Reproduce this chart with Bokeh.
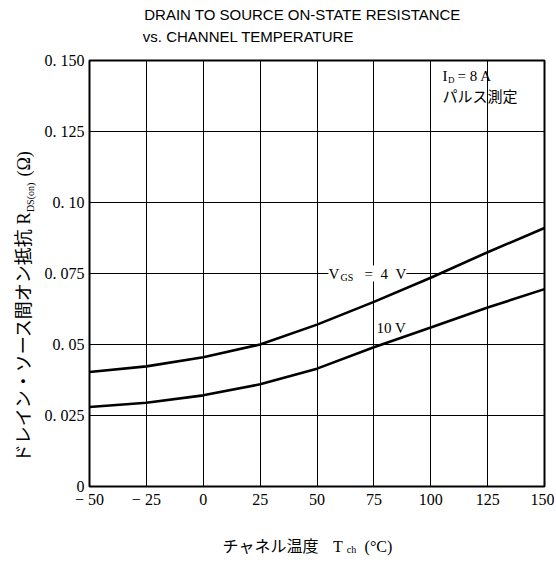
from bokeh.plotting import figure
from bokeh.models import Label, FixedTicker, Range1d, LinearAxis
from bokeh.embed import file_html
from bokeh.resources import INLINE

# ---- data ----
temps = [-50, -25, 0, 25, 50, 75, 100, 125, 150]
r_vgs4 = [0.0403, 0.0423, 0.0455, 0.0500, 0.0570, 0.0650, 0.0735, 0.0825, 0.0910]
r_vgs10 = [0.0280, 0.0295, 0.0321, 0.0360, 0.0415, 0.0490, 0.0560, 0.0630, 0.0695]

x_ticks = [-50, -25, 0, 25, 50, 75, 100, 125, 150]
x_tick_labels = ["\u2212 50", "\u2212 25", "0", "25", "50", "75", "100", "125", "150"]
y_ticks = [0, 0.025, 0.05, 0.075, 0.10, 0.125, 0.150]
y_tick_labels = ["0", "0. 025", "0. 05", "0. 075", "0. 10", "0. 125", "0. 150"]

title_lines = ["DRAIN TO SOURCE ON-STATE RESISTANCE", "vs. CHANNEL TEMPERATURE"]
x_label_parts = ["チャネル温度", "T", "(°C)"]
x_label_sub = "ch"
y_label_parts = ["ドレイン・ソース間オン抵抗", "R", "(Ω)"]
y_label_sub = "DS(on)"

SERIF = "Liberation Serif"
SANS = "Liberation Sans"
JP = "Noto Sans CJK JP"
MIX = "'Liberation Serif', 'Noto Sans CJK JP'"

p = figure(width=554, height=562, x_range=Range1d(-50, 150), y_range=Range1d(0, 0.15),
           output_backend="svg", toolbar_location=None,
           min_border_left=89, min_border_right=10, min_border_top=60, min_border_bottom=76)
p.background_fill_color = "white"
p.border_fill_color = "white"
p.outline_line_color = "black"
p.outline_line_width = 2

p.xaxis.ticker = FixedTicker(ticks=x_ticks)
p.yaxis.ticker = FixedTicker(ticks=y_ticks)
p.xaxis.major_label_overrides = {t: l for t, l in zip(x_ticks, x_tick_labels)}
p.yaxis.major_label_overrides = {t: l for t, l in zip(y_ticks, y_tick_labels)}
for ax in (p.xaxis, p.yaxis):
    ax.axis_line_color = None
    ax.major_tick_line_color = None
    ax.minor_tick_line_color = None
    ax.major_tick_out = 0
    ax.minor_tick_out = 0
    ax.major_label_text_font = SERIF
    ax.major_label_text_font_size = "16px"
    ax.major_label_text_color = "black"
p.xaxis.major_label_standoff = 4
p.yaxis.major_label_standoff = 5

p.xgrid.grid_line_color = "black"
p.ygrid.grid_line_color = "black"
p.xgrid.grid_line_width = 1
p.ygrid.grid_line_width = 1

p.line(temps, r_vgs4, line_color="black", line_width=2.6)
p.line(temps, r_vgs10, line_color="black", line_width=2.6)


def text_axis(side, positions, texts, font, size, standoff, orientation="horizontal"):
    ax = LinearAxis(ticker=FixedTicker(ticks=positions),
                    major_label_overrides={pos: t for pos, t in zip(positions, texts)})
    ax.axis_line_color = None
    ax.major_tick_line_color = None
    ax.minor_tick_line_color = None
    ax.major_tick_out = 0
    ax.major_tick_in = 0
    ax.minor_tick_out = 0
    ax.minor_tick_in = 0
    ax.major_label_text_font = font
    ax.major_label_text_font_size = size
    ax.major_label_text_color = "black"
    ax.major_label_standoff = standoff
    ax.major_label_orientation = orientation
    p.add_layout(ax, side)


# title, two lines above the frame (nearest line first)
text_axis("above", [19.9], [title_lines[1]], SANS, "15px", 16)
text_axis("above", [43.6], [title_lines[0]], SANS, "15px", 2)

# x axis title with subscript
text_axis("below", [29.6, 59.2, 77.0], x_label_parts, MIX, "16px", 27)
text_axis("below", [65.2], [x_label_sub], SERIF, "10px", -14)

# y axis title with subscript (rotated)
text_axis("left", [0.1018], [y_label_sub], SERIF, "10px", 5, "vertical")
text_axis("left", [0.0497, 0.0944, 0.1136], y_label_parts, MIX, "18px", -12, "vertical")


def lab(x, y, text, font=SERIF, size="15px", bg=None):
    l = Label(x=x, y=y, text=text, text_font=font, text_font_size=size, text_color="black",
              text_align="left", text_baseline="middle")
    if bg:
        l.background_fill_color = bg
    p.add_layout(l)


# curve labels
lab(55.0, 0.075, "V\u2002\u2002\u2002", bg="white")
lab(60.3, 0.0735, "GS", size="10px")
lab(67.6, 0.075, "\u2002=\u20024\u2002V", bg="white")
lab(76.2, 0.0558, "10 V")

# measurement conditions
lab(105.2, 0.1444, "I")
lab(107.6, 0.1431, "D", size="9px")
lab(111.8, 0.1444, "= 8 A")
lab(105.2, 0.1377, "パルス測定", font=JP)

open("out.html", "w").write(file_html(p, INLINE))
